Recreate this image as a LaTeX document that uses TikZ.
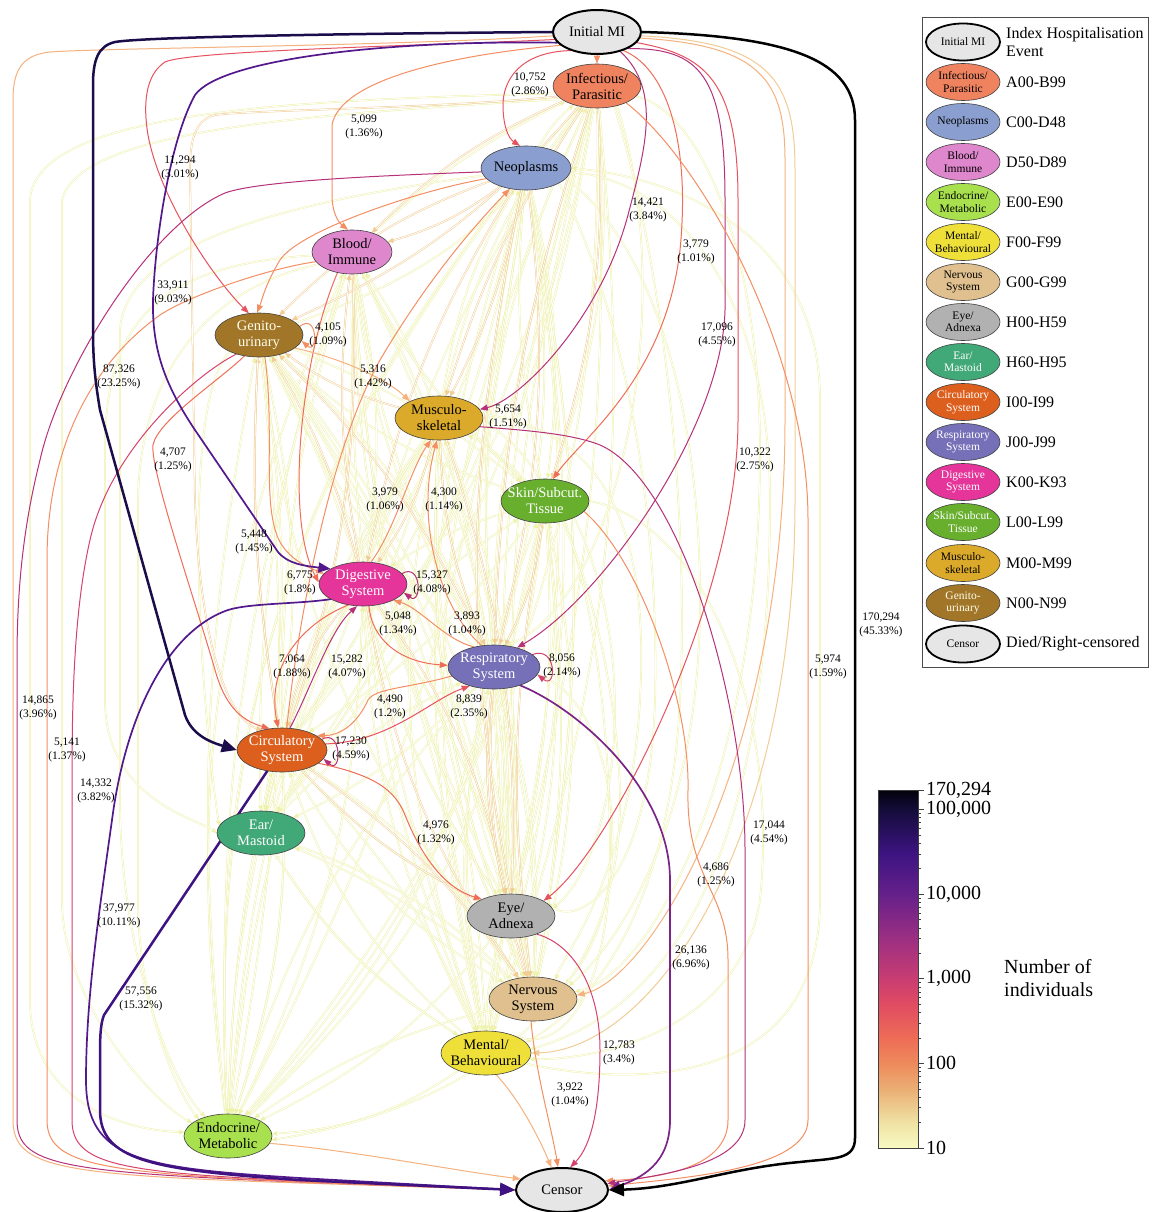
\documentclass[tikz,border=0pt]{standalone}
\usepackage{fontspec}
\setmainfont{Liberation Serif}
\usetikzlibrary{arrows.meta,shapes.geometric}
% node fills
\definecolor{cIMI}{HTML}{E6E6E6}
\definecolor{cINF}{HTML}{EF8360}
\definecolor{cNEO}{HTML}{8A9FCF}
\definecolor{cBLD}{HTML}{DF87CD}
\definecolor{cEND}{HTML}{A8E04E}
\definecolor{cMEN}{HTML}{EEE039}
\definecolor{cNER}{HTML}{DFC08E}
\definecolor{cEYE}{HTML}{B1B1B1}
\definecolor{cEAR}{HTML}{41A978}
\definecolor{cCIR}{HTML}{DD5F1D}
\definecolor{cRES}{HTML}{7570B8}
\definecolor{cDIG}{HTML}{E5359A}
\definecolor{cSKN}{HTML}{68AF2E}
\definecolor{cMUS}{HTML}{DBAA2A}
\definecolor{cGEN}{HTML}{A27628}
% edge colours
\definecolor{eNavy}{HTML}{1B0C4A}
\definecolor{eDPur}{HTML}{3E1281}
\definecolor{ePur}{HTML}{52188C}
\definecolor{eVio}{HTML}{7A2487}
\definecolor{eMag}{HTML}{B5317A}
\definecolor{ePink}{HTML}{D5436C}
\definecolor{eRed}{HTML}{E6525E}
\definecolor{eOrR}{HTML}{EF6D56}
\definecolor{eOr}{HTML}{F38F62}
\definecolor{eLOr}{HTML}{F5B27E}
\definecolor{ePeach}{HTML}{F1CC94}
\definecolor{eYel}{HTML}{EEF2AA}
% colour bar stops
\definecolor{cb0}{HTML}{F8FBC2}
\definecolor{cb1}{HTML}{F0E2A4}
\definecolor{cb2}{HTML}{EAAE74}
\definecolor{cb3}{HTML}{EE8A5C}
\definecolor{cb4}{HTML}{EE6C56}
\definecolor{cb5}{HTML}{E04C62}
\definecolor{cb6}{HTML}{C93D72}
\definecolor{cb7}{HTML}{9C2F82}
\definecolor{cb8}{HTML}{65208A}
\definecolor{cb9}{HTML}{3D1482}
\definecolor{cb10}{HTML}{140C3A}
\definecolor{cb11}{HTML}{03020A}
\pgfdeclareverticalshading{magmacb}{100bp}{color(0bp)=(cb0); color(25bp)=(cb0); color(28.56bp)=(cb1); color(33.26bp)=(cb2); color(36.82bp)=(cb3); color(40.38bp)=(cb4); color(45.07bp)=(cb5); color(48.64bp)=(cb6); color(54.28bp)=(cb7); color(60.46bp)=(cb8); color(66.1bp)=(cb9); color(72.28bp)=(cb10); color(75bp)=(cb11); color(100bp)=(cb11)}
\pgfdeclarelayer{back}
\pgfdeclarelayer{edges}
\pgfsetlayers{back,edges,main}
\tikzset{
  cat/.style={ellipse, draw=black!75, line width=0.6pt, minimum width=88pt, minimum height=44pt,
              inner xsep=-20pt, inner ysep=-12pt, align=center, font=\fontsize{14.5}{16}\selectfont},
  term/.style={cat, draw=black, line width=2pt, fill=cIMI},
  lgcat/.style={cat, minimum width=74pt, minimum height=37pt, font=\fontsize{11.5}{12.5}\selectfont},
  lgterm/.style={lgcat, draw=black, line width=1.8pt, fill=cIMI},
  lgtxt/.style={anchor=west, align=left, inner sep=0pt, font=\fontsize{16}{18}\selectfont},
  lbl/.style={align=center, inner sep=0pt, font=\fontsize{11.5}{13.5}\selectfont},
  cbl/.style={anchor=west, inner sep=0pt, font=\fontsize{20}{20}\selectfont},
  ed/.style={draw=#1, line width=1pt, line cap=round, -{Triangle[length=8pt,width=6pt]}},
  edmed/.style={draw=#1, line width=1.7pt, line cap=round, -{Triangle[length=12pt,width=10pt]}},
  edthick/.style={draw=#1, line width=2.5pt, line cap=round, -{Triangle[length=15pt,width=13pt]}},
  faint/.style={draw=eYel, line width=0.5pt, double=white, double distance=0.8pt, -{Triangle[length=5pt,width=4.5pt]}},
  peach/.style={draw=ePeach, line width=0.5pt, double=white, double distance=0.8pt, -{Triangle[length=5.5pt,width=5pt]}},
  cbtick/.style={draw=black!75, line width=0.8pt}
}
\begin{document}
\begin{tikzpicture}[x=1pt,y=-1pt]
\useasboundingbox (0,0) rectangle (1162,1212);
\begin{pgfonlayer}{back}
\fill[white] (0,0) rectangle (1162,1212);
\end{pgfonlayer}

% ---------------- nodes ----------------
\node[term] (nIMI) at (597,32) {Initial MI};
\node[cat, fill=cINF] (nINF) at (597,86) {Infectious/\\Parasitic};
\node[cat, fill=cNEO, minimum width=90pt] (nNEO) at (526,168) {Neoplasms};
\node[cat, fill=cBLD, minimum width=80pt] (nBLD) at (352,252) {Blood/\\Immune};
\node[cat, fill=cGEN, text=white!92!yellow] (nGEN) at (259,335) {Genito-\\urinary};
\node[cat, fill=cMUS] (nMUS) at (439,418) {Musculo-\\skeletal};
\node[cat, fill=cSKN, text=white] (nSKN) at (545,501) {Skin/Subcut.\\Tissue};
\node[cat, fill=cDIG, text=white] (nDIG) at (363,584) {Digestive\\System};
\node[cat, fill=cRES, text=white, minimum width=92pt] (nRES) at (494,667) {Respiratory\\System};
\node[cat, fill=cCIR, text=white, minimum width=90pt] (nCIR) at (282,750) {Circulatory\\System};
\node[cat, fill=cEAR, text=white] (nEAR) at (261,833) {Ear/\\Mastoid};
\node[cat, fill=cEYE] (nEYE) at (511,916) {Eye/\\Adnexa};
\node[cat, fill=cNER] (nNER) at (533,999) {Nervous\\System};
\node[cat, fill=cMEN, minimum width=90pt] (nMEN) at (486,1053) {Mental/\\Behavioural};
\node[cat, fill=cEND] (nEND) at (228,1136) {Endocrine/\\Metabolic};
\node[term, minimum width=92pt] (nCEN) at (562,1190) {Censor};

% ---------------- edges ----------------
\begin{pgfonlayer}{edges}
% faint (few individuals)
\foreach \a/\b/\c in {NEO/INF/10, SKN/INF/-12, RES/INF/15, EYE/INF/-8, NER/INF/12, MEN/INF/18, CIR/INF/-15, DIG/INF/8, END/INF/22, GEN/INF/-18, MUS/INF/12, EAR/INF/-10, BLD/INF/8,
 EYE/NEO/10, NER/NEO/-10, MEN/NEO/15, RES/NEO/-12, SKN/NEO/8, END/NEO/20, EAR/NEO/-15, MUS/NEO/10, DIG/NEO/-8,
 RES/BLD/12, EYE/BLD/-12, NER/BLD/10, MEN/BLD/-18, SKN/BLD/10, END/BLD/15, EAR/BLD/-10, CIR/BLD/8, MUS/BLD/-6,
 RES/GEN/10, EYE/GEN/-10, NER/GEN/15, MEN/GEN/-15, END/GEN/8, EAR/GEN/-8, SKN/GEN/12, DIG/GEN/-5,
 RES/MUS/10, EYE/MUS/-12, NER/MUS/12, MEN/MUS/-10, END/MUS/15, SKN/MUS/-8, EAR/MUS/10, CIR/MUS/-10,
 NEO/SKN/10, RES/SKN/-10, EYE/SKN/10, NER/SKN/-12, MEN/SKN/15, END/SKN/-20, CIR/SKN/10, BLD/SKN/-10, GEN/SKN/8,
 EYE/DIG/10, NER/DIG/-10, MEN/DIG/12, END/DIG/-12, EAR/DIG/10, SKN/DIG/-8, BLD/DIG/10,
 EYE/RES/10, NER/RES/-8, MEN/RES/12, END/RES/-15, EAR/RES/10, NEO/RES/-8, GEN/RES/12, BLD/RES/-10,
 EYE/CIR/10, NER/CIR/-12, MEN/CIR/15, END/CIR/-10, EAR/CIR/8, SKN/CIR/10, MUS/CIR/-8, NEO/CIR/12,
 NEO/EAR/15, BLD/EAR/-10, GEN/EAR/12, MUS/EAR/-12, RES/EAR/10, NER/EAR/-8, MEN/EAR/12, DIG/EAR/-10, INF/EAR/15,
 NEO/EYE/10, BLD/EYE/-12, GEN/EYE/12, MUS/EYE/-10, SKN/EYE/8, DIG/EYE/-10, RES/EYE/8, INF/EYE/-12,
 NEO/NER/10, BLD/NER/-10, GEN/NER/15, MUS/NER/-12, SKN/NER/8, DIG/NER/10, CIR/NER/-15, EAR/NER/12, INF/NER/-10, RES/NER/10, EYE/NER/8,
 NEO/MEN/12, BLD/MEN/-10, GEN/MEN/10, MUS/MEN/-15, SKN/MEN/12, DIG/MEN/-8, CIR/MEN/10, EAR/MEN/-12, INF/MEN/12, EYE/MEN/-10, RES/MEN/8,
 NEO/END/10, BLD/END/-10, GEN/END/8, MUS/END/-12, SKN/END/15, DIG/END/-8, CIR/END/10, EAR/END/-5, EYE/END/12, NER/END/-10, MEN/END/15, RES/END/-12, INF/END/20}
 \draw[faint] (n\a) to[bend left=\c] (n\b);
% faint routed
\draw[faint] (nINF.200) .. controls (300,115) and (80,130) .. (62,200) -- (62,900) .. controls (62,1000) and (150,1100) .. (nEND.160);
\draw[faint] (nNEO.190) .. controls (300,200) and (125,240) .. (120,330) -- (120,800) .. controls (120,950) and (170,1080) .. (nEND.140);
\draw[faint] (nBLD.200) .. controls (200,290) and (140,380) .. (138,500) -- (138,900) .. controls (138,1000) and (175,1090) .. (nEND.150);
\draw[faint] (nGEN.210) .. controls (180,400) and (200,700) .. (nEAR.170);
\draw[faint] (nINF.190) .. controls (300,100) and (35,110) .. (30,200) -- (30,1000) .. controls (30,1100) and (120,1130) .. (nEND.175);
\draw[faint] (nBLD.185) .. controls (150,265) and (105,330) .. (105,450) -- (105,700) .. controls (105,800) and (200,820) .. (nEAR.180);
\draw[faint] (nNEO.-5) .. controls (680,180) and (770,300) .. (770,500) .. controls (770,800) and (700,1000) .. (nMEN.5);
\draw[faint] (nINF.-15) .. controls (700,110) and (760,250) .. (760,450) .. controls (760,800) and (640,980) .. (nNER.10);
\draw[faint] (nSKN.0) .. controls (700,520) and (780,700) .. (760,900) .. controls (740,1030) and (600,1060) .. (nMEN.-8);
\draw[faint] (nNEO.-15) .. controls (650,240) and (700,400) .. (700,600) .. controls (700,850) and (600,960) .. (nNER.20);
\draw[faint] (nMUS.5) .. controls (600,430) and (650,520) .. (640,700) .. controls (630,880) and (560,960) .. (nNER.40);
\draw[faint] (nRES.-10) .. controls (620,700) and (640,900) .. (nNER.25);
\draw[faint] (nSKN.-30) .. controls (640,650) and (620,850) .. (nEYE.10);
\draw[faint] (nINF.-45) .. controls (680,300) and (620,600) .. (nRES.60);
\draw[faint] (nMEN.-15) .. controls (650,1090) and (820,1080) .. (820,900) -- (820,400) .. controls (820,250) and (700,180) .. (nNEO.0);
\draw[faint] (nINF.-50) .. controls (660,250) and (690,500) .. (680,700) .. controls (670,900) and (600,1000) .. (nMEN.15);
\draw[faint] (nNEO.-25) .. controls (620,300) and (660,500) .. (655,700) .. controls (650,880) and (580,930) .. (nEYE.20);
\draw[faint] (nSKN.-45) .. controls (600,620) and (610,760) .. (610,850) .. controls (610,1000) and (560,1050) .. (nMEN.30);
\draw[faint] (nMUS.-5) .. controls (580,470) and (620,700) .. (620,800) .. controls (620,1050) and (400,1120) .. (nEND.-5);
% peach
\foreach \a/\b/\c in {NEO/BLD/10, NEO/GEN/-12, NEO/MUS/8, INF/BLD/-10, INF/GEN/12, INF/MUS/-8, INF/SKN/10, MUS/GEN/10, DIG/GEN/-8, CIR/GEN/6, RES/GEN/-10, DIG/BLD/8, MUS/DIG/10, SKN/RES/10, NEO/DIG/-10, BLD/CIR/10, GEN/CIR/-6, MUS/RES/-10, DIG/CIR/-14, CIR/EYE/-10, DIG/NER/-12, RES/NER/-10, NEO/RES/10, INF/RES/-8, CIR/NER/10, DIG/EYE/12, MUS/EYE/10, RES/EYE/-10, SKN/NER/-8, NEO/NER/-12}
 \draw[peach] (n\a) to[bend left=\c] (n\b);
\draw[peach] (nINF.195) .. controls (450,108) and (250,110) .. (215,115) .. controls (195,120) and (190,140) .. (190,170) -- (195,500) .. controls (200,650) and (230,720) .. (nCIR.135);

% coloured edges
\draw[ed=eLOr] (nIMI.185) .. controls (400,46) and (100,48) .. (50,52) .. controls (22,55) and (13,70) .. (13,100) -- (13,1120) .. controls (13,1168) and (60,1175) .. (300,1183) -- (nCEN.west);
\draw[ed=eLOr] (nIMI.-8) .. controls (760,45) and (785,80) .. (785,160) -- (785,420) .. controls (785,760) and (650,980) .. (nNER.5);
\draw[ed=ePeach] (nIMI.-5) .. controls (770,42) and (795,80) .. (795,170) -- (795,500) .. controls (795,850) and (650,1050) .. (nMEN.0);
\draw[ed=eOr] (nIMI.south) -- (nINF.north);
\draw[ed=eRed] (nIMI.215) .. controls (520,52) and (503,80) .. (503,105) .. controls (503,125) and (508,138) .. (nNEO.105);
\draw[ed=eOr] (nIMI.200) .. controls (450,55) and (340,80) .. (332,125) -- (332,195) .. controls (332,212) and (338,222) .. (nBLD.100);
\draw[ed=eRed] (nIMI.190) .. controls (450,45) and (190,50) .. (165,62) .. controls (145,75) and (143,105) .. (148,135) .. controls (160,200) and (215,280) .. (nGEN.115);
\draw[ed=eMag] (nIMI.-40) .. controls (662,90) and (645,150) .. (628,215) .. controls (600,320) and (520,400) .. (nMUS.12);
\draw[ed=eOrR] (nIMI.-35) .. controls (670,70) and (690,150) .. (680,250) .. controls (665,380) and (580,440) .. (nSKN.70);
\draw[ed=eMag] (nIMI.-28) .. controls (700,48) and (725,75) .. (725,200) -- (725,310) .. controls (722,430) and (600,600) .. (nRES.40);
\draw[ed=eRed] (nIMI.-15) .. controls (705,55) and (738,80) .. (738,200) -- (738,420) .. controls (738,600) and (610,850) .. (nEYE.25);
\draw[ed=eOr] (nINF.-30) .. controls (700,160) and (808,350) .. (808,520) -- (808,1120) .. controls (808,1170) and (680,1178) .. (nCEN.5);
\draw[ed=eOr] (nNEO.195) .. controls (420,190) and (300,230) .. (280,260) .. controls (265,285) and (262,300) .. (nGEN.95);
\draw[ed=eMag] (nNEO.185) .. controls (400,175) and (260,180) .. (225,193) .. controls (150,225) and (60,370) .. (40,460) .. controls (25,520) and (17,580) .. (17,660) -- (17,1120) .. controls (17,1165) and (60,1172) .. (300,1182) -- (nCEN.west);
\draw[ed=eOr] (nBLD.195) .. controls (270,268) and (190,295) .. (160,315) .. controls (90,365) and (47,450) .. (47,560) -- (47,1120) .. controls (47,1165) and (100,1172) .. (300,1182) -- (nCEN.west);
\draw[ed=ePink] (nGEN.220) .. controls (195,375) and (110,450) .. (90,540) .. controls (74,610) and (72,700) .. (72,780) -- (72,1120) .. controls (72,1165) and (120,1172) .. (300,1181) -- (nCEN.west);
\draw[ed=eOrR] (nGEN.235) .. controls (220,380) and (158,420) .. (153,445) .. controls (150,470) and (195,600) .. (215,670) .. controls (225,705) and (240,720) .. (nCIR.120);
\draw[ed=eOr] (nGEN.-75) .. controls (275,430) and (262,500) .. (278,538) .. controls (288,560) and (310,568) .. (nDIG.165);
\draw[ed=eOrR] (nBLD.235) .. controls (300,360) and (285,520) .. (nDIG.178);
\draw[ed=eOr] (nGEN.12) .. controls (318,312) and (318,355) .. (nGEN.-8);
\draw[ed=eLOr] (nGEN.-20) .. controls (340,358) and (385,378) .. (nMUS.150);
\draw[ed=eOr] (nDIG.70) .. controls (395,530) and (410,470) .. (nMUS.250);
\draw[ed=eOr] (nRES.120) .. controls (440,610) and (415,520) .. (nMUS.-95);
\draw[ed=eOr] (nCIR.78) .. controls (298,620) and (330,450) .. (380,360) .. controls (430,275) and (480,220) .. (nNEO.232);
\draw[ed=eMag] (nDIG.15) .. controls (422,562) and (422,606) .. (nDIG.-12);
\draw[ed=eMag] (nCIR.15) .. controls (342,728) and (342,775) .. (nCIR.-12);
\draw[ed=ePink] (nRES.18) .. controls (557,645) and (557,690) .. (nRES.-10);
\draw[ed=eMag] (nCIR.70) .. controls (310,690) and (330,630) .. (nDIG.-105);
\draw[ed=eOrR] (nDIG.235) .. controls (310,620) and (265,660) .. (nCIR.100);
\draw[ed=eOrR] (nDIG.-75) .. controls (372,640) and (400,662) .. (nRES.178);
\draw[ed=eOr] (nRES.135) .. controls (445,640) and (420,608) .. (nDIG.-28);
\draw[ed=eOr] (nRES.192) .. controls (410,688) and (375,688) .. (368,700) .. controls (360,718) and (345,735) .. (nCIR.22);
\draw[ed=eRed] (nCIR.8) .. controls (390,742) and (430,700) .. (nRES.218);
\draw[ed=eOrR] (nCIR.-20) .. controls (375,775) and (395,790) .. (405,815) .. controls (425,865) and (450,890) .. (nEYE.150);
\draw[ed=ePink] (nEYE.-35) .. controls (575,945) and (600,990) .. (600,1050) .. controls (600,1105) and (592,1145) .. (nCEN.70);
\draw[ed=eOr] (nNER.-95) .. controls (535,1070) and (552,1130) .. (nCEN.100);
\draw[ed=eLOr] (nEND.-10) .. controls (350,1150) and (450,1170) .. (nCEN.165);
\draw[ed=eLOr] (nMEN.-65) .. controls (520,1100) and (540,1140) .. (nCEN.115);
\draw[ed=eOr] (nSKN.-15) .. controls (640,560) and (690,700) .. (688,790) .. controls (686,880) and (728,890) .. (728,960) -- (728,1120) .. controls (728,1168) and (660,1178) .. (nCEN.12);
\draw[ed=eMag] (nMUS.-12) .. controls (520,430) and (570,433) .. (600,445) .. controls (680,480) and (745,700) .. (745,850) -- (745,1120) .. controls (745,1165) and (660,1175) .. (nCEN.8);
\draw[edmed=eVio] (nRES.-35) .. controls (580,710) and (670,790) .. (670,880) -- (670,1120) .. controls (670,1165) and (640,1178) .. (nCEN.east);
\draw[edmed=ePur] (nIMI.195) .. controls (380,40) and (220,60) .. (195,95) .. controls (170,140) and (155,240) .. (153,300) .. controls (152,350) and (165,385) .. (195,430) -- (278,552) .. controls (288,564) and (305,566) .. (nDIG.155);
\draw[edmed=ePur] (nDIG.205) .. controls (300,604) and (250,603) .. (228,610) .. controls (165,632) and (125,720) .. (112,820) .. controls (98,920) and (86,1000) .. (86,1080) .. controls (86,1160) and (140,1168) .. (300,1178) -- (nCEN.west);
\draw[edthick=eDPur] (nCIR.235) -- (104,1015) .. controls (100,1025) and (100,1040) .. (100,1060) -- (100,1110) .. controls (100,1160) and (150,1170) .. (300,1180) -- (nCEN.west);
\draw[edthick=eNavy] (nIMI.west) .. controls (420,33) and (150,36) .. (115,42) .. controls (98,46) and (93,60) .. (93,85) -- (93,330) .. controls (93,360) and (95,380) .. (100,410) -- (185,715) .. controls (192,735) and (210,742) .. (nCIR.west);
\draw[edthick=black] (nIMI.east) .. controls (790,36) and (855,60) .. (855,120) -- (855,1138) .. controls (855,1160) and (835,1158) .. (800,1162) .. controls (730,1168) and (680,1188) .. (nCEN.east);
\end{pgfonlayer}

% ---------------- edge labels ----------------
\node[lbl] (l01) at (530,85) {10,752\\(2.86\%)};
\node[lbl] (l02) at (364,127) {5,099\\(1.36\%)};
\node[lbl] (l03) at (180,168) {11,294\\(3.01\%)};
\node[lbl] (l04) at (648,210) {14,421\\(3.84\%)};
\node[lbl] (l05) at (696,252) {3,779\\(1.01\%)};
\node[lbl] (l06) at (173,293) {33,911\\(9.03\%)};
\node[lbl] (l07) at (717,335) {17,096\\(4.55\%)};
\node[lbl] (l08) at (328,335) {4,105\\(1.09\%)};
\node[lbl] (l09) at (119,377) {87,326\\(23.25\%)};
\node[lbl] (l10) at (373,377) {5,316\\(1.42\%)};
\node[lbl] (l11) at (508,417) {5,654\\(1.51\%)};
\node[lbl] (l12) at (755,460) {10,322\\(2.75\%)};
\node[lbl] (l13) at (173,460) {4,707\\(1.25\%)};
\node[lbl] (l14) at (385,500) {3,979\\(1.06\%)};
\node[lbl] (l15) at (444,500) {4,300\\(1.14\%)};
\node[lbl] (l16) at (254,542) {5,448\\(1.45\%)};
\node[lbl] (l17) at (300,583) {6,775\\(1.8\%)};
\node[lbl] (l18) at (432,583) {15,327\\(4.08\%)};
\node[lbl] (l19) at (398,624) {5,048\\(1.34\%)};
\node[lbl] (l20) at (467,624) {3,893\\(1.04\%)};
\node[lbl] (l21) at (881,625) {170,294\\(45.33\%)};
\node[lbl] (l22) at (292,667) {7,064\\(1.88\%)};
\node[lbl] (l23) at (347,667) {15,282\\(4.07\%)};
\node[lbl] (l24) at (562,666) {8,056\\(2.14\%)};
\node[lbl] (l25) at (828,667) {5,974\\(1.59\%)};
\node[lbl] (l26) at (38,708) {14,865\\(3.96\%)};
\node[lbl] (l27) at (390,707) {4,490\\(1.2\%)};
\node[lbl] (l28) at (469,707) {8,839\\(2.35\%)};
\node[lbl] (l29) at (351,749) {17,230\\(4.59\%)};
\node[lbl] (l30) at (67,750) {5,141\\(1.37\%)};
\node[lbl] (l31) at (96,791) {14,332\\(3.82\%)};
\node[lbl] (l32) at (436,833) {4,976\\(1.32\%)};
\node[lbl] (l33) at (769,833) {17,044\\(4.54\%)};
\node[lbl] (l34) at (716,875) {4,686\\(1.25\%)};
\node[lbl] (l35) at (119,916) {37,977\\(10.11\%)};
\node[lbl] (l36) at (691,958) {26,136\\(6.96\%)};
\node[lbl] (l37) at (141,999) {57,556\\(15.32\%)};
\node[lbl] (l38) at (619,1053) {12,783\\(3.4\%)};
\node[lbl] (l39) at (570,1095) {3,922\\(1.04\%)};

% ---------------- legend ----------------
\draw[black!70, line width=1pt] (922,18) rectangle (1148,667);
\node[lgterm] (gIMI) at (963,42) {Initial MI};
\node[lgtxt] (tIMI) at (1006,42) {Index Hospitalisation\\Event};
\node[lgcat, fill=cINF] (gINF) at (963,82) {Infectious/\\Parasitic};
\node[lgtxt] (tINF) at (1006,82) {A00-B99};
\node[lgcat, fill=cNEO] (gNEO) at (963,122) {Neoplasms};
\node[lgtxt] (tNEO) at (1006,122) {C00-D48};
\node[lgcat, fill=cBLD] (gBLD) at (963,162) {Blood/\\Immune};
\node[lgtxt] (tBLD) at (1006,162) {D50-D89};
\node[lgcat, fill=cEND] (gEND) at (963,202) {Endocrine/\\Metabolic};
\node[lgtxt] (tEND) at (1006,202) {E00-E90};
\node[lgcat, fill=cMEN] (gMEN) at (963,242) {Mental/\\Behavioural};
\node[lgtxt] (tMEN) at (1006,242) {F00-F99};
\node[lgcat, fill=cNER] (gNER) at (963,282) {Nervous\\System};
\node[lgtxt] (tNER) at (1006,282) {G00-G99};
\node[lgcat, fill=cEYE] (gEYE) at (963,322) {Eye/\\Adnexa};
\node[lgtxt] (tEYE) at (1006,322) {H00-H59};
\node[lgcat, fill=cEAR, text=white] (gEAR) at (963,362) {Ear/\\Mastoid};
\node[lgtxt] (tEAR) at (1006,362) {H60-H95};
\node[lgcat, fill=cCIR, text=white] (gCIR) at (963,402) {Circulatory\\System};
\node[lgtxt] (tCIR) at (1006,402) {I00-I99};
\node[lgcat, fill=cRES, text=white] (gRES) at (963,442) {Respiratory\\System};
\node[lgtxt] (tRES) at (1006,442) {J00-J99};
\node[lgcat, fill=cDIG, text=white] (gDIG) at (963,482) {Digestive\\System};
\node[lgtxt] (tDIG) at (1006,482) {K00-K93};
\node[lgcat, fill=cSKN, text=white] (gSKN) at (963,522) {Skin/Subcut.\\Tissue};
\node[lgtxt] (tSKN) at (1006,522) {L00-L99};
\node[lgcat, fill=cMUS] (gMUS) at (963,563) {Musculo-\\skeletal};
\node[lgtxt] (tMUS) at (1006,563) {M00-M99};
\node[lgcat, fill=cGEN, text=white!92!yellow] (gGEN) at (963,603) {Genito-\\urinary};
\node[lgtxt] (tGEN) at (1006,603) {N00-N99};
\node[lgterm] (gCEN) at (963,644) {Censor};
\node[lgtxt] (tCEN) at (1006,644) {Died/Right-censored};

% ---------------- colour bar ----------------
\shade[shading=magmacb] (878,790) rectangle (918,1148);
\draw[black!75, line width=1pt] (878,790) rectangle (918,1148);
\foreach \yy in {1148,1063.39,978.78,894.17,809.56,790} \draw[cbtick] (918,\yy) -- (924,\yy);
\foreach \d in {0,...,3} {
  \foreach \k in {2,...,9} {
    \pgfmathsetmacro\yy{1148-(\d+log10(\k))*84.61}
    \draw[cbtick, line width=0.6pt] (918,\yy) -- (921,\yy);
  }
}
\node[cbl] (k6) at (926,790) {170,294};
\node[cbl] (k5) at (926,809.5) {100,000};
\node[cbl] (k4) at (926,894.2) {10,000};
\node[cbl] (k3) at (926,978.8) {1,000};
\node[cbl] (k2) at (926,1063.4) {100};
\node[cbl] (k1) at (926,1148) {10};
\node[anchor=west, align=left, inner sep=0pt, font=\fontsize{20}{23}\selectfont] (cbt) at (1004,978) {Number of\\individuals};
\end{tikzpicture}
\end{document}
